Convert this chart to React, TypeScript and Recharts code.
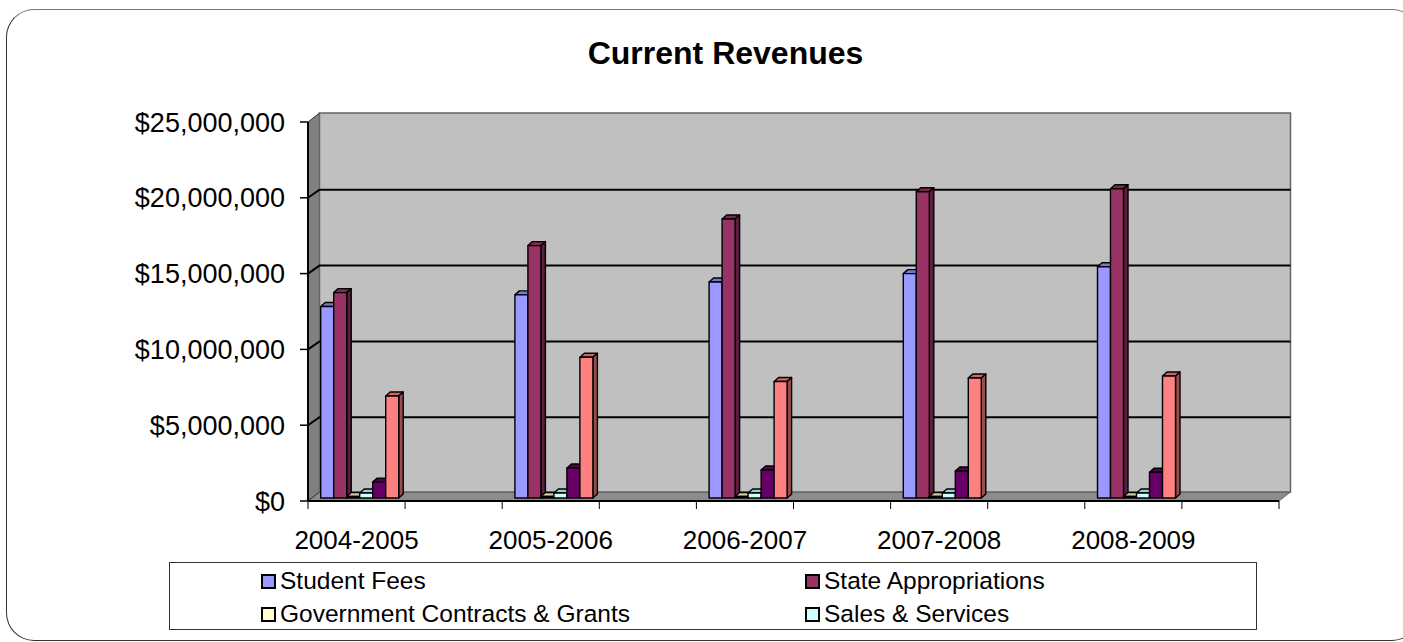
import React from 'react'
import { BarChart, Bar, XAxis, YAxis, CartesianGrid, Legend, ReferenceArea } from 'recharts'

// every second category is blank, the source sheet had empty rows between years
const years = ['2004-2005', '', '2005-2006', '', '2006-2007', '', '2007-2008', '', '2008-2009', '']
const studentFees = [12630000, null, 13400000, null, 14250000, null, 14800000, null, 15250000, null]
const stateAppropriations = [13550000, null, 16650000, null, 18400000, null, 20200000, null, 20400000, null]
const contractsGrants = [100000, null, 100000, null, 100000, null, 100000, null, 100000, null]
const salesServices = [330000, null, 330000, null, 330000, null, 330000, null, 330000, null]
const otherSources = [1050000, null, 1980000, null, 1850000, null, 1780000, null, 1700000, null]
const otherRevenue = [6730000, null, 9280000, null, 7680000, null, 7920000, null, 8050000, null]
const yTicks = [0, 5000000, 10000000, 15000000, 20000000, 25000000]
const legendNames = ['Student Fees', 'State Appropriations', 'Government Contracts & Grants', 'Sales & Services']

const data = years.map((year, i) => ({
  year,
  studentFees: studentFees[i],
  stateAppropriations: stateAppropriations[i],
  contractsGrants: contractsGrants[i],
  salesServices: salesServices[i],
  otherSources: otherSources[i],
  otherRevenue: otherRevenue[i],
}))

const FONT = '"Liberation Sans", Arial, sans-serif'
const WALL_DX = 11.5
const WALL_DY = -9
const GRID_DY = -8
const BAR_DX = 2.7
const BAR_DY = -3
const DEPTH_X = 4.5
const DEPTH_Y = 4
const BAND = 97.1

const shade = (hex: string, k: number) => {
  const n = parseInt(hex.slice(1), 16)
  const c = [(n >> 16) & 255, (n >> 8) & 255, n & 255].map((v) => Math.round(v * k))
  return `rgb(${c[0]},${c[1]},${c[2]})`
}

// 3d box look of the old Excel chart
function Box3D(props: any) {
  const { x, y, width, height, fill } = props
  if (height == null || width == null || !height) return null
  const l = x + BAR_DX
  const r = l + width
  const t = y + BAR_DY
  const b = t + height
  return (
    <g stroke="#000" strokeWidth={1.4} strokeLinejoin="round">
      <polygon points={`${l},${t} ${l + DEPTH_X},${t - DEPTH_Y} ${r + DEPTH_X},${t - DEPTH_Y} ${r},${t}`} fill={shade(fill, 0.8)} />
      <polygon points={`${r},${t} ${r + DEPTH_X},${t - DEPTH_Y} ${r + DEPTH_X},${b - DEPTH_Y} ${r},${b}`} fill={shade(fill, 0.6)} />
      <rect x={l} y={t} width={width} height={height} fill={fill} />
    </g>
  )
}

function Walls(props: any) {
  const { x, y, width, height } = props
  const b = y + height
  const r = x + width
  return (
    <g>
      <polygon points={`${x},${y} ${x + WALL_DX},${y + WALL_DY} ${x + WALL_DX},${b + WALL_DY} ${x},${b}`} fill="#808080" />
      <polygon points={`${x},${b} ${x + WALL_DX},${b + WALL_DY} ${r + WALL_DX},${b + WALL_DY} ${r},${b}`} fill="#8c8c8c" stroke="#666" strokeWidth={1} />
      <rect x={x + WALL_DX} y={y + WALL_DY} width={width} height={height} fill="#c0c0c0" stroke="#666" strokeWidth={1.5} />
    </g>
  )
}

function GridLine(props: any) {
  const { x1, x2, y1 } = props
  if (Math.abs(y1 - 501) < 1 || Math.abs(y1 - 122) < 1) {
    return <line x1={x1} y1={y1} x2={x1 + WALL_DX} y2={y1 + WALL_DY} stroke="#333" strokeWidth={1} />
  }
  return (
    <polyline
      points={`${x1},${y1} ${x1 + WALL_DX},${y1 + GRID_DY} ${x2 + WALL_DX},${y1 + GRID_DY}`}
      fill="none"
      stroke="#000"
      strokeWidth={2}
    />
  )
}

function YearTick(props: any) {
  const { x, y, payload, index } = props
  return (
    <g>
      <line x1={x - BAND / 2} y1={y - 8} x2={x - BAND / 2} y2={y} stroke="#000" strokeWidth={1} />
      {index === years.length - 1 && <line x1={x + BAND / 2} y1={y - 8} x2={x + BAND / 2} y2={y} stroke="#000" strokeWidth={1} />}
      {payload.value && (
        <text x={x} y={y + 40} textAnchor="middle" fontSize={26} fontFamily={FONT} fill="#000">
          {payload.value}
        </text>
      )}
    </g>
  )
}

function LegendBox({ payload }: any) {
  const items = legendNames.map((name) => payload.find((p: any) => p.value === name)).filter(Boolean)
  return (
    <div
      style={{
        width: 1086,
        height: 66,
        border: '1px solid #333',
        background: '#fff',
        position: 'relative',
        boxSizing: 'content-box',
      }}
    >
      {items.map((item: any, i: number) => (
        <div
          key={item.value}
          style={{
            position: 'absolute',
            left: i % 2 === 0 ? 91 : 635,
            top: i < 2 ? 2 : 35,
            height: 32,
            display: 'flex',
            alignItems: 'center',
            fontSize: 24.5,
            fontFamily: FONT,
            color: '#000',
            whiteSpace: 'nowrap',
          }}
        >
          <span
            style={{
              width: 11,
              height: 11,
              border: '2px solid #000',
              background: item.color,
              marginRight: 4,
              display: 'inline-block',
            }}
          />
          {item.value}
        </div>
      ))}
    </div>
  )
}

export default function App() {
  return (
    <div style={{ position: 'absolute', left: 0, top: 0, width: 1403, height: 642, background: '#fff', overflow: 'hidden' }}>
      <div
        style={{
          position: 'absolute',
          left: 6,
          top: 9,
          width: 1412,
          height: 630,
          border: '1.5px solid #333',
          borderTopColor: '#777',
          borderRadius: 28,
        }}
      />
      <div
        style={{
          position: 'absolute',
          left: 0,
          top: 33,
          width: 1451,
          textAlign: 'center',
          fontFamily: FONT,
          fontWeight: 700,
          fontSize: 32,
          lineHeight: '40px',
          color: '#000',
        }}
      >
        Current Revenues
      </div>
      <div style={{ position: 'absolute', left: 0, top: 0 }}>
        <BarChart
          width={1403}
          height={642}
          data={data}
          margin={{ top: 122, right: 124, bottom: 0, left: 0 }}
          barSize={13}
          barGap={0}
        >
          <ReferenceArea y1={0} y2={25000000} shape={<Walls />} zIndex={-200} />
          <CartesianGrid vertical={false} horizontal={<GridLine />} />
          <XAxis
            dataKey="year"
            interval={0}
            height={141}
            tickLine={false}
            axisLine={{ stroke: '#000', strokeWidth: 2 }}
            tick={<YearTick />}
          />
          <YAxis
            width={308}
            domain={[0, 25000000]}
            ticks={yTicks}
            tickFormatter={(v: number) => `$${v.toLocaleString('en-US')}`}
            tick={{ fontSize: 27, fontFamily: FONT, fill: '#000' }}
            tickLine={{ stroke: '#000', strokeWidth: 1.5 }}
            tickSize={8}
            tickMargin={15}
            axisLine={{ stroke: '#000', strokeWidth: 2 }}
          />
          <Legend
            layout="vertical"
            align="center"
            verticalAlign="middle"
            wrapperStyle={{ position: 'absolute', left: 169, top: 562, width: 1088, height: 68 }}
            content={<LegendBox />}
          />
          <Bar dataKey="studentFees" name="Student Fees" fill="#9999ff" shape={<Box3D />} isAnimationActive={false} />
          <Bar dataKey="stateAppropriations" name="State Appropriations" fill="#993366" shape={<Box3D />} isAnimationActive={false} />
          <Bar dataKey="contractsGrants" name="Government Contracts & Grants" fill="#ffffcc" shape={<Box3D />} isAnimationActive={false} />
          <Bar dataKey="salesServices" name="Sales & Services" fill="#ccffff" shape={<Box3D />} isAnimationActive={false} />
          <Bar dataKey="otherSources" fill="#660066" legendType="none" shape={<Box3D />} isAnimationActive={false} />
          <Bar dataKey="otherRevenue" fill="#ff8080" legendType="none" shape={<Box3D />} isAnimationActive={false} />
        </BarChart>
      </div>
    </div>
  )
}
